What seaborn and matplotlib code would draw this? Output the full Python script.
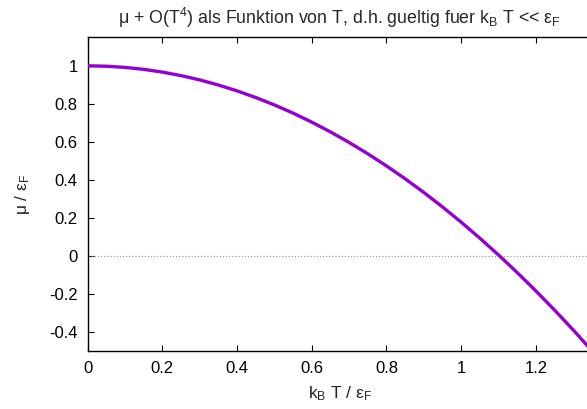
import matplotlib
matplotlib.use("Agg")
import matplotlib.pyplot as plt
import seaborn as sns
import pandas as pd

# data
kT = [0.0, 0.05, 0.1, 0.15, 0.2, 0.25, 0.3, 0.35, 0.4, 0.45, 0.5, 0.55, 0.6, 0.65,
      0.7, 0.75, 0.8, 0.85, 0.9, 0.95, 1.0, 1.05, 1.1, 1.15, 1.2, 1.25, 1.3, 1.35]
mu = [1.0, 0.9979, 0.9918, 0.9815, 0.9671, 0.9486, 0.9260, 0.8992, 0.8684, 0.8334,
      0.7944, 0.7512, 0.7039, 0.6525, 0.5970, 0.5373, 0.4736, 0.4058, 0.3338, 0.2577,
      0.1775, 0.0932, 0.0048, -0.0877, -0.1844, -0.2852, -0.3900, -0.4990]
xticks = [0, 0.2, 0.4, 0.6, 0.8, 1.0, 1.2]
xtick_labels = ["0", "0.2", "0.4", "0.6", "0.8", "1", "1.2"]
yticks = [-0.4, -0.2, 0, 0.2, 0.4, 0.6, 0.8, 1.0]
ytick_labels = ["-0.4", "-0.2", "0", "0.2", "0.4", "0.6", "0.8", "1"]

sns.set_style("ticks")
plt.rcParams["font.family"] = ["Liberation Sans", "DejaVu Sans"]
plt.rcParams["mathtext.fontset"] = "custom"
plt.rcParams["mathtext.rm"] = "Liberation Sans"
plt.rcParams["mathtext.it"] = "Liberation Sans"
plt.rcParams["mathtext.default"] = "rm"

FS = 12

df = pd.DataFrame({"kT": kT, "mu": mu})

fig = plt.figure(figsize=(5.87, 4.09), dpi=100)
ax = fig.add_axes([87.5 / 587, 58 / 409, (592 - 87.5) / 587, (351 - 37.3) / 409])

ax.axhline(0, color="#a0a0a0", lw=0.9, ls=(0, (1, 1.5)), zorder=1)
sns.lineplot(data=df, x="kT", y="mu", ax=ax, color="#9400D3", lw=2.4, zorder=3)

ax.set_xlim(0, 1.35)
ax.set_ylim(-0.5, 1.15)
ax.set_xticks(xticks)
ax.set_xticklabels(xtick_labels)
ax.set_yticks(yticks)
ax.set_yticklabels(ytick_labels)
ax.tick_params(direction="in", length=4, width=0.8, color="black", labelsize=FS,
               top=True, right=False, labelcolor="black")
ax.tick_params(axis="y", pad=7)
ax.tick_params(axis="x", pad=7)
for s in ax.spines.values():
    s.set_color("black")
    s.set_linewidth(1.0)

ax.set_xlabel("k$_\\mathrm{B}$ T / ε$_\\mathrm{F}$", fontsize=12.5, labelpad=6)
ax.set_ylabel("μ / ε$_\\mathrm{F}$", fontsize=12.5, labelpad=12)
fig.text(339 / 587, 1 - 17.5 / 409,
         "μ + O(T$^4$) als Funktion von T, d.h. gueltig fuer k$_\\mathrm{B}$ T << ε$_\\mathrm{F}$",
         ha="center", va="center", fontsize=12.8)

fig.savefig("out.png", dpi=100)
